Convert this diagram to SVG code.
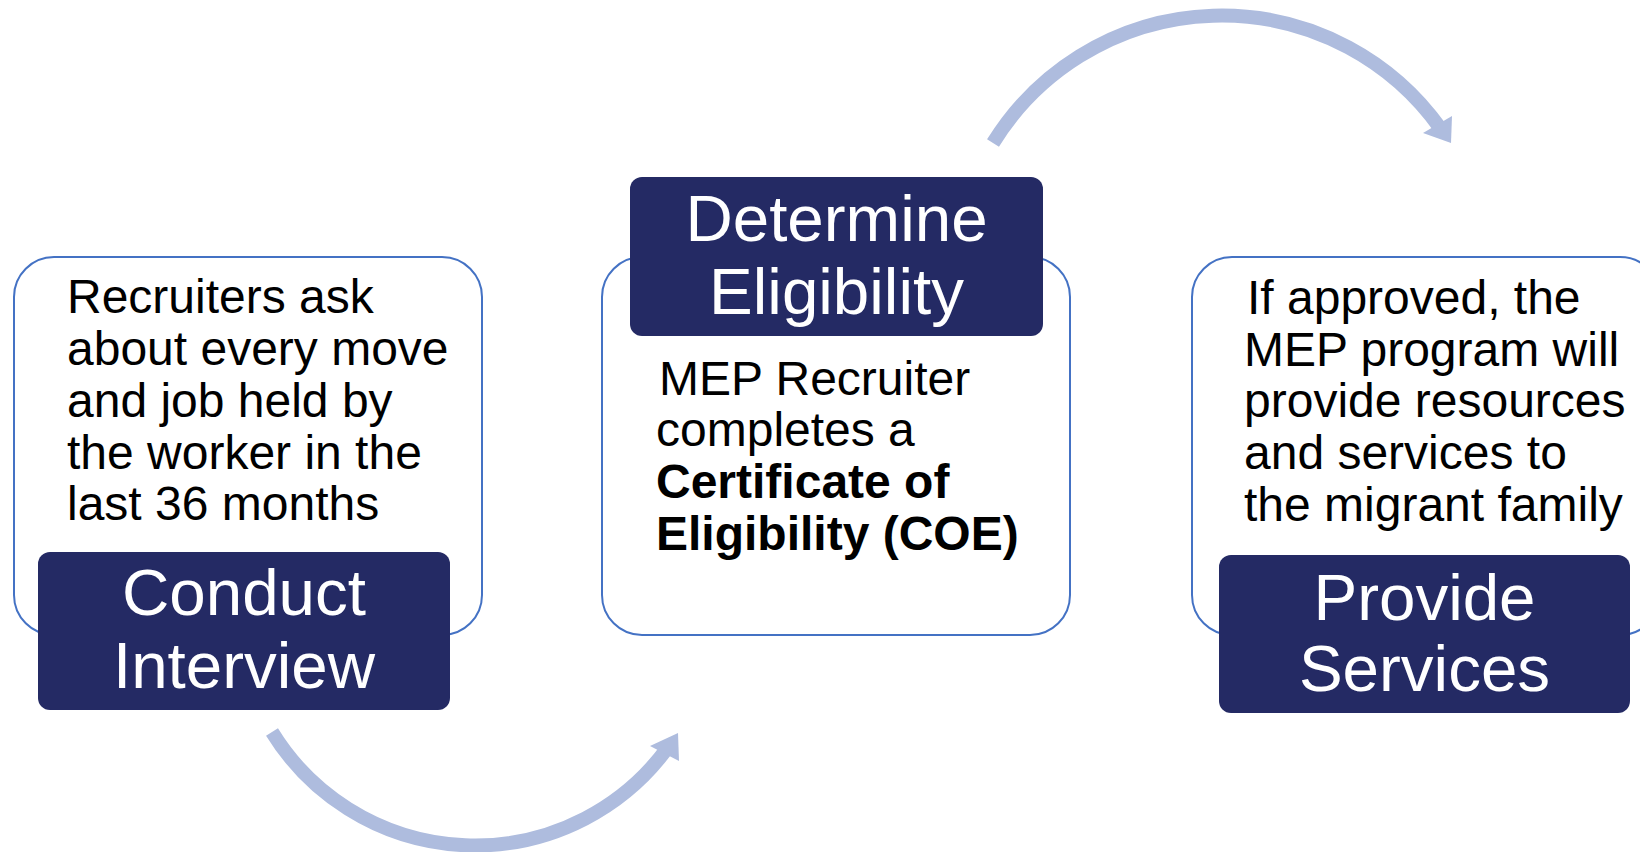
<svg xmlns="http://www.w3.org/2000/svg" width="1640" height="852" viewBox="0 0 1640 852">
  <style>
    .outer { fill: #FFFFFF; stroke: #4472C4; stroke-width: 2; }
    .title-box { fill: #242A64; }
    .title { font-family: "Liberation Sans", Arial, sans-serif; font-size: 65.5px; fill: #FFFFFF; text-anchor: middle; }
    .body { font-family: "Liberation Sans", Arial, sans-serif; font-size: 48px; fill: #000000; }
    .bold { font-weight: bold; }
    .arc { fill: none; stroke: #AEBCDE; stroke-width: 14; stroke-linecap: butt; }
    .head { fill: #AEBCDE; }
  </style>
  <rect width="1640" height="852" fill="#FFFFFF"/>

  <g id="connectors">
    <path class="arc" d="M 272 732 A 238.5 238.5 0 0 0 667.1 748.4"/>
    <polygon class="head" points="678,733 650,746 679,761"/>
    <path class="arc" d="M 993 143 A 268.6 268.6 0 0 1 1440.4 128.4"/>
    <polygon class="head" points="1451,143 1423,133 1452,116"/>
  </g>

  <g id="node-conduct-interview">
    <rect class="outer" x="14" y="257" width="468" height="378" rx="40" ry="40"/>
    <text class="body" x="67" y="313">Recruiters ask</text>
    <text class="body" x="67" y="365">about every move</text>
    <text class="body" x="67" y="417">and job held by</text>
    <text class="body" x="67" y="469">the worker in the</text>
    <text class="body" x="67" y="520">last 36 months</text>
    <rect class="title-box" x="38" y="552" width="412" height="158" rx="12" ry="12"/>
    <text class="title" x="244" y="615">Conduct</text>
    <text class="title" x="244" y="688">Interview</text>
  </g>

  <g id="node-determine-eligibility">
    <rect class="outer" x="602" y="257" width="468" height="378" rx="40" ry="40"/>
    <rect class="title-box" x="630" y="177" width="413" height="159" rx="12" ry="12"/>
    <text class="title" x="836.5" y="241">Determine</text>
    <text class="title" x="836.5" y="314">Eligibility</text>
    <text class="body" x="659" y="395">MEP Recruiter</text>
    <text class="body" x="656" y="446">completes a</text>
    <text class="body bold" x="656" y="498">Certificate of</text>
    <text class="body bold" x="656" y="550">Eligibility (COE)</text>
  </g>

  <g id="node-provide-services">
    <rect class="outer" x="1192" y="257" width="468" height="378" rx="40" ry="40"/>
    <text class="body" x="1247" y="314">If approved, the</text>
    <text class="body" x="1244" y="366">MEP program will</text>
    <text class="body" x="1244" y="417">provide resources</text>
    <text class="body" x="1244" y="469">and services to</text>
    <text class="body" x="1244" y="521">the migrant family</text>
    <rect class="title-box" x="1219" y="555" width="411" height="158" rx="12" ry="12"/>
    <text class="title" x="1424.5" y="620">Provide</text>
    <text class="title" x="1424.5" y="691">Services</text>
  </g>
</svg>
